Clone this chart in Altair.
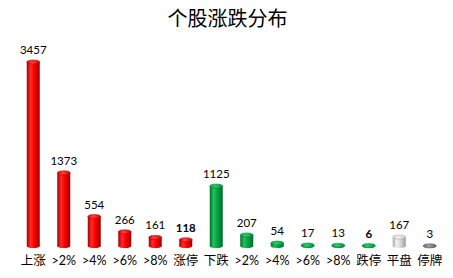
import altair as alt
import pandas as pd

categories = ["上涨", ">2%", ">4%", ">6%", ">8%", "涨停", "下跌", ">2%", ">4%", ">6%", ">8%", "跌停", "平盘", "停牌"]
values = [3457, 1373, 554, 266, 161, 118, 1125, 207, 54, 17, 13, 6, 167, 3]
groups = ["up"] * 6 + ["down"] * 6 + ["flat", "halt"]
bold_cats = ["涨停", "跌停"]

df = pd.DataFrame({
    "idx": list(range(len(categories))),
    "cat": categories,
    "value": values,
    "g": groups,
})
df["zero"] = 0

label_expr = "[" + ",".join("'" + c + "'" for c in categories) + "][datum.value]"

def grad(stops):
    return alt.Gradient(
        gradient="linear", x1=0, x2=1, y1=0, y2=0,
        stops=[alt.GradientStop(offset=o, color=c) for o, c in stops],
    )

styles = {
    "up": dict(body=[(0, "#a80000"), (0.3, "#ff2a2a"), (0.55, "#ff0000"), (1, "#9a0000")],
               top=[(0, "#e00000"), (0.4, "#ff4040"), (1, "#d00000")], stroke="#b00000"),
    "down": dict(body=[(0, "#006e2a"), (0.3, "#28c060"), (0.55, "#00a848"), (1, "#00692a")],
                 top=[(0, "#009a40"), (0.4, "#30c868"), (1, "#009040")], stroke="#007a30"),
    "flat": dict(body=[(0, "#a8a8a8"), (0.3, "#f4f4f4"), (0.6, "#d8d8d8"), (1, "#9a9a9a")],
                 top=[(0, "#cfcfcf"), (0.4, "#f0f0f0"), (1, "#c8c8c8")], stroke="#a0a0a0"),
    "halt": dict(body=[(0, "#505050"), (0.3, "#9a9a9a"), (0.6, "#7a7a7a"), (1, "#4a4a4a")],
                 top=[(0, "#6a6a6a"), (0.4, "#a0a0a0"), (1, "#666666")], stroke="#555555"),
}

ellipse = "M -1 0 A 1 0.32 0 1 0 1 0 A 1 0.32 0 1 0 -1 0 Z"
BW = 13

x_enc = alt.X("idx:O", axis=alt.Axis(labelExpr=label_expr, labelAngle=0, domain=False, ticks=False,
                                     title=None, labelPadding=8, labelFontSize=12.5,
                                     labelFont="Lato, Noto Sans CJK SC", labelColor="#000000"))
y_scale = alt.Scale(domain=[0, 3870], nice=False)

base = alt.Chart(df)
layers = []
for g, st in styles.items():
    sub = base.transform_filter(alt.datum.g == g)
    bottom = sub.mark_point(shape=ellipse, size=BW * BW, filled=True, fill=grad(st["body"]),
                            opacity=1, strokeWidth=0).encode(
        x=x_enc, y=alt.Y("zero:Q", scale=y_scale, axis=None))
    body = sub.mark_bar(size=BW, fill=grad(st["body"])).encode(
        x=x_enc, y=alt.Y("value:Q", scale=y_scale, axis=None))
    top = sub.mark_point(shape=ellipse, size=BW * BW, filled=True, fill=grad(st["top"]),
                         stroke=st["stroke"], strokeWidth=0.5, opacity=1).encode(
        x=x_enc, y=alt.Y("value:Q", scale=y_scale, axis=None))
    layers += [bottom, body, top]

is_bold = alt.FieldOneOfPredicate(field="cat", oneOf=bold_cats)
for weight, pred in [("normal", ~is_bold), ("bold", is_bold)]:
    text = base.transform_filter(pred).mark_text(
        baseline="bottom", dy=-6, font="Lato", fontSize=11.5, color="#000000", fontWeight=weight
    ).encode(
        x=x_enc,
        y=alt.Y("value:Q", scale=y_scale, axis=None),
        text="value:Q",
    )
    layers.append(text)

chart = alt.layer(*layers).properties(
    width=427, height=206,
    autosize=alt.AutoSizeParams(type="none"),
    padding={"left": 18, "top": 40, "right": 8, "bottom": 32},
    title=alt.TitleParams("个股涨跌分布", font="Noto Sans CJK SC", fontSize=20, fontWeight="normal",
                          color="#000000", anchor="middle", offset=10, dx=-4),
).configure_view(stroke=None)

chart.save("out.html", embed_options={"renderer": "svg", "actions": False})
